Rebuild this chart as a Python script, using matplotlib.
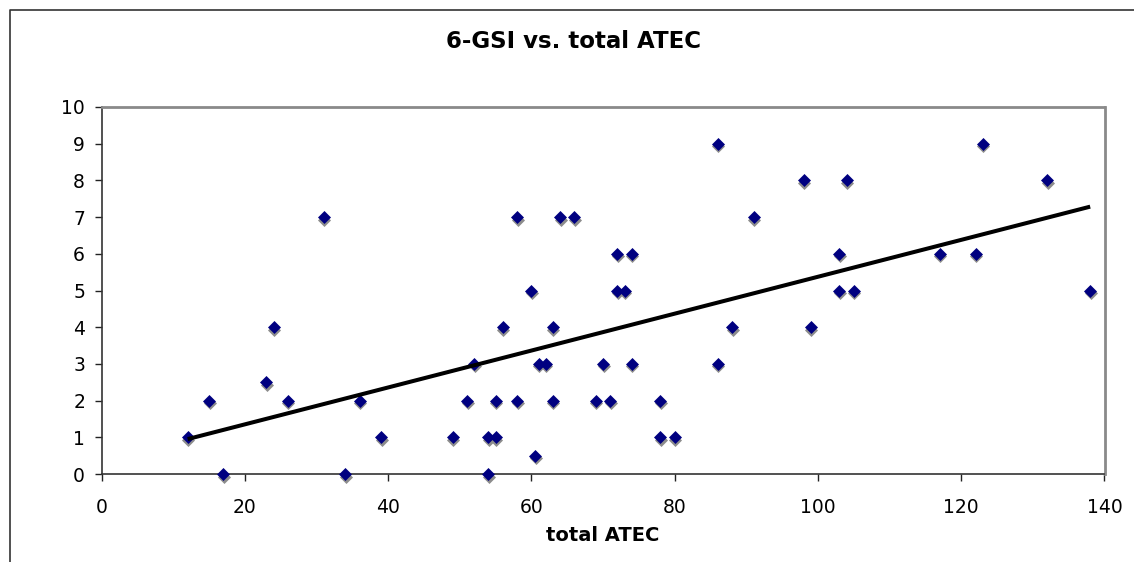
import numpy as np
import matplotlib
matplotlib.use('Agg')
from matplotlib import pyplot as plt
from matplotlib import transforms
from matplotlib.lines import Line2D

# values
total_atec = [12, 15, 17, 23, 24, 26, 31, 34, 36, 39,
              49, 51, 52, 54, 54, 55, 55, 56, 58, 58,
              60, 60.5, 61, 62, 63, 63, 64, 66, 69, 70,
              71, 72, 72, 73, 74, 74, 78, 78, 80, 86,
              86, 88, 91, 98, 99, 103, 103, 104, 105, 117,
              122, 123, 132, 138]
gsi6 = [1, 2, 0, 2.5, 4, 2, 7, 0, 2, 1,
        1, 2, 3, 1, 0, 1, 2, 4, 7, 2,
        5, 0.5, 3, 3, 4, 2, 7, 7, 2, 3,
        2, 6, 5, 5, 6, 3, 2, 1, 1, 9,
        3, 4, 7, 8, 4, 6, 5, 8, 5, 6,
        6, 9, 8, 5]

title = '6-GSI vs. total ATEC'
xlabel = 'total ATEC'
xticks = list(range(0, 141, 20))
yticks = list(range(0, 11))

x = np.array(total_atec, dtype=float)
y = np.array(gsi6, dtype=float)

# linear trend line
m, b = np.polyfit(x, y, 1)
xfit = np.array([x.min(), x.max()])
yfit = m*xfit + b

W, H = 1134, 562
fig = plt.figure(figsize=(W/100, H/100), dpi=100)
ax = fig.add_axes([101.7/W, 1 - 474/H, (1104.5 - 101.7)/W, (474 - 107)/H])

# shadow under the markers
shadow = transforms.offset_copy(ax.transData, fig=fig, x=0.5, y=-2.5, units='dots')
ax.scatter(x, y, marker='D', s=44, color='#8c8c8c', linewidths=0,
           transform=shadow, zorder=2, clip_on=False)
ax.scatter(x, y, marker='D', s=44, color='#000080', linewidths=0,
           zorder=3, clip_on=False)
ax.plot(xfit, yfit, color='black', lw=2.9, zorder=4, solid_capstyle='butt')

ax.set_xlim(0, 140)
ax.set_ylim(0, 10)
ax.set_xticks(xticks)
ax.set_yticks(yticks)
ax.tick_params(axis='x', direction='out', length=5, width=1, pad=12,
               labelsize=13.5, colors='#222222', labelcolor='black')
ax.tick_params(axis='y', direction='out', length=5, width=1, pad=7,
               labelsize=13.5, colors='#222222', labelcolor='black')

for s in ['left', 'bottom']:
    ax.spines[s].set_color('#333333')
    ax.spines[s].set_linewidth(1.2)
for s in ['top', 'right']:
    ax.spines[s].set_color('#8a8a8a')
    ax.spines[s].set_linewidth(2)

ax.set_xlabel(xlabel, fontsize=14, fontweight='bold', labelpad=7)

fig.text(574/W, 1 - 42/H, title, ha='center', va='center',
         fontsize=16.5, fontweight='bold')

# outer chart frame (only top and left edges are inside the picture)
fig.add_artist(Line2D([10/W, 10/W, 1.0], [0.0, 1 - 10/H, 1 - 10/H],
                      transform=fig.transFigure, color='#333333', lw=1.2))

fig.savefig('out.png', dpi=100)
